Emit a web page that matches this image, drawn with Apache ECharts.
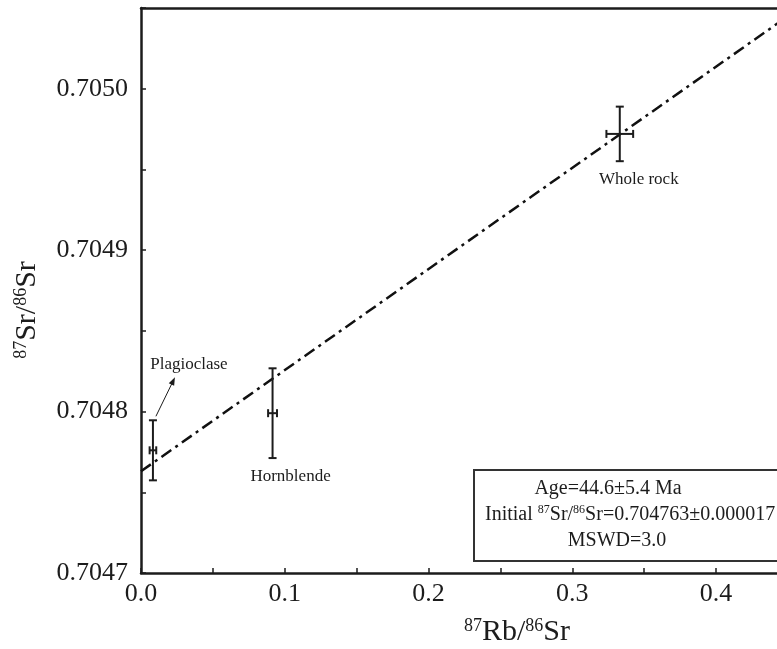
<!DOCTYPE html>
<html>
<head>
<meta charset="utf-8">
<script src="https://cdn.jsdelivr.net/npm/echarts@6/dist/echarts.min.js"></script>
<style>
html,body{margin:0;padding:0;background:#fff;}
#chart{width:777px;height:649px;}
</style>
</head>
<body>
<div id="chart"></div>
<script>
// ---- data ----
const sampleNames = ['Plagioclase', 'Hornblende', 'Whole rock'];
const rbSr = [0.0083, 0.0915, 0.333];
const rbSrErr = [0.0023, 0.0031, 0.0093];
const srSr = [0.704776, 0.704799, 0.704972];
const srSrErr = [0.0000186, 0.0000278, 0.0000169];
const isochronX = [0, 0.45];
const isochronY = [0.704763, 0.705045];
const xAxisMin = 0, xAxisMax = 0.45, xTickStep = 0.05;
const yAxisMin = 0.7047, yAxisMax = 0.70505, yTickStep = 0.00005;
const resultLines = ['Age=44.6±5.4 Ma', 'Initial 87Sr/86Sr=0.704763±0.000017', 'MSWD=3.0'];

// ---- styling / layout (not data) ----
const FONT = '"Liberation Serif","Times New Roman",serif';
const INK = '#1c1c1c';
const labelOffsets = [[36, -86], [18, 63], [19, 46]];

const errData = rbSr.map((x, i) => [x, srSr[i], rbSrErr[i], srSrErr[i], i]);
const lineData = isochronX.map((x, i) => [x, isochronY[i]]);

const chart = echarts.init(document.getElementById('chart'), null, {renderer: 'canvas'});

function renderErr(params, api) {
  const x = api.value(0), y = api.value(1), ex = api.value(2), ey = api.value(3), idx = api.value(4);
  const c = api.coord([x, y]);
  const top = api.coord([x, y + ey])[1];
  const bot = api.coord([x, y - ey])[1];
  const left = api.coord([x - ex, y])[0];
  const right = api.coord([x + ex, y])[0];
  const cap = 4;
  const ls = {stroke: INK, lineWidth: 2};
  const children = [
    {type: 'line', shape: {x1: c[0], y1: top, x2: c[0], y2: bot}, style: ls},
    {type: 'line', shape: {x1: c[0] - cap, y1: top, x2: c[0] + cap, y2: top}, style: ls},
    {type: 'line', shape: {x1: c[0] - cap, y1: bot, x2: c[0] + cap, y2: bot}, style: ls},
    {type: 'line', shape: {x1: left, y1: c[1], x2: right, y2: c[1]}, style: ls},
    {type: 'line', shape: {x1: left, y1: c[1] - cap, x2: left, y2: c[1] + cap}, style: ls},
    {type: 'line', shape: {x1: right, y1: c[1] - cap, x2: right, y2: c[1] + cap}, style: ls}
  ];
  const off = labelOffsets[idx];
  children.push({
    type: 'text',
    style: {text: sampleNames[idx], x: c[0] + off[0], y: c[1] + off[1], align: 'center', verticalAlign: 'middle',
      fontSize: 17, fontFamily: FONT, fill: INK}
  });
  if (idx === 0) {
    const x1 = c[0] + 3, y1 = top - 4, x2 = c[0] + 22, y2 = top - 43;
    const dx = x2 - x1, dy = y2 - y1, L = Math.hypot(dx, dy), ux = dx / L, uy = dy / L;
    const hl = 8, hw = 3;
    children.push({type: 'line', shape: {x1, y1, x2: x2 - ux * hl * 0.8, y2: y2 - uy * hl * 0.8}, style: {stroke: INK, lineWidth: 1}});
    children.push({type: 'polygon', shape: {points: [
      [x2, y2],
      [x2 - ux * hl - uy * hw, y2 - uy * hl + ux * hw],
      [x2 - ux * hl + uy * hw, y2 - uy * hl - ux * hw]
    ]}, style: {fill: INK}});
  }
  return {type: 'group', children};
}

const option = {
  backgroundColor: '#fff',
  animation: false,
  grid: {left: 141, top: 8, width: 647, bottom: 76, outerBoundsMode: 'none', containLabel: false},
  xAxis: [{
    type: 'value', min: xAxisMin, max: xAxisMax, interval: xTickStep,
    axisLine: {show: true, lineStyle: {color: INK, width: 2.5}},
    axisTick: {show: true, inside: true, length: 5, lineStyle: {color: INK, width: 1.5}},
    axisLabel: {color: INK, fontSize: 26, fontFamily: FONT, margin: 8,
      formatter: v => (Math.round(v * 100) % 10 === 0 ? v.toFixed(1) : '')},
    splitLine: {show: false}
  }, {
    type: 'value', position: 'top', min: xAxisMin, max: xAxisMax,
    axisLine: {show: true, lineStyle: {color: INK, width: 2.5}},
    axisTick: {show: false}, axisLabel: {show: false}, splitLine: {show: false}
  }],
  yAxis: {
    type: 'value', min: yAxisMin, max: yAxisMax, interval: yTickStep,
    axisLine: {show: true, lineStyle: {color: INK, width: 2.5}},
    axisTick: {show: true, inside: true, length: 5, lineStyle: {color: INK, width: 1.5}},
    axisLabel: {color: INK, fontSize: 26, fontFamily: FONT, margin: 13,
      formatter: v => (Math.round(v * 1e5) % 10 === 0 ? v.toFixed(4) : '')},
    splitLine: {show: false}
  },
  series: [{
    type: 'line', data: lineData, showSymbol: false, symbol: 'none',
    lineStyle: {color: '#111', width: 2.5, type: [12, 5, 3, 5]}, z: 2
  }, {
    type: 'custom', data: errData, renderItem: renderErr, z: 3,
    encode: {x: 0, y: 1}
  }],
  graphic: [
    {type: 'rect', shape: {x: 474, y: 470, width: 340, height: 91},
      style: {fill: '#fff', stroke: '#333', lineWidth: 2}, z: 10},
    {type: 'text', x: 608, y: 489, z: 11,
      style: {text: resultLines[0], align: 'center', verticalAlign: 'middle', fontSize: 20, fontFamily: FONT, fill: INK}},
    {type: 'text', x: 485, y: 515, z: 11,
      style: {text: '{a|Initial }{s|87}{a|Sr/}{s|86}{a|Sr=0.704763±0.000017}', align: 'left', verticalAlign: 'middle',
        rich: {a: {fontSize: 20, fontFamily: FONT, fill: INK, lineHeight: 22},
               s: {fontSize: 12, fontFamily: FONT, fill: INK, lineHeight: 22, verticalAlign: 'top'}}}},
    {type: 'text', x: 617, y: 541, z: 11,
      style: {text: resultLines[2], align: 'center', verticalAlign: 'middle', fontSize: 20, fontFamily: FONT, fill: INK}},
    {type: 'text', x: 517, y: 632, z: 11,
      style: {text: '{s|87}{a|Rb/}{s|86}{a|Sr}', align: 'center', verticalAlign: 'middle',
        rich: {a: {fontSize: 30, fontFamily: FONT, fill: INK, lineHeight: 30},
               s: {fontSize: 18, fontFamily: FONT, fill: INK, lineHeight: 30, verticalAlign: 'top'}}}},
    {type: 'text', x: 27, y: 310, rotation: Math.PI / 2, z: 11,
      style: {text: '{s|87}{a|Sr/}{s|86}{a|Sr}', align: 'center', verticalAlign: 'middle',
        rich: {a: {fontSize: 30, fontFamily: FONT, fill: INK, lineHeight: 30},
               s: {fontSize: 18, fontFamily: FONT, fill: INK, lineHeight: 30, verticalAlign: 'top'}}}}
  ]
};
chart.setOption(option);
</script>
</body>
</html>
